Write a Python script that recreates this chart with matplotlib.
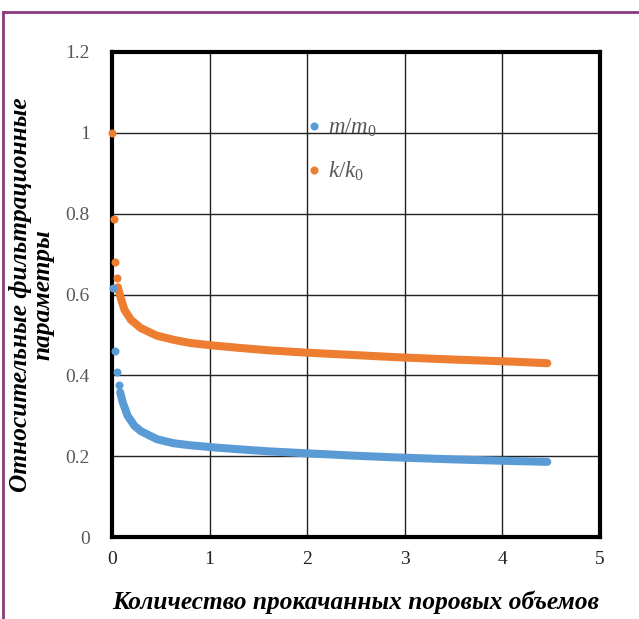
import numpy as np
import matplotlib.pyplot as plt
from matplotlib.lines import Line2D

# m/m0 - first separate points, then the dense part of the curve
m_start_x = [0.007, 0.034, 0.05, 0.067]
m_start_y = [0.616, 0.461, 0.408, 0.377]
m_curve_x = [0.084, 0.11, 0.16, 0.23, 0.295, 0.46, 0.63, 0.80, 1.03, 1.3, 1.6, 2.0, 2.5, 2.9, 3.5, 4.1, 4.46]
m_curve_y = [0.358, 0.333, 0.300, 0.275, 0.262, 0.242, 0.232, 0.227, 0.222, 0.217, 0.212, 0.207, 0.201, 0.197, 0.192, 0.188, 0.186]

# k/k0
k_start_x = [0.0, 0.017, 0.034, 0.05]
k_start_y = [1.0, 0.787, 0.681, 0.642]
k_curve_x = [0.06, 0.094, 0.128, 0.195, 0.295, 0.46, 0.63, 0.80, 1.03, 1.3, 1.6, 2.0, 2.5, 2.9, 3.5, 4.1, 4.46]
k_curve_y = [0.618, 0.588, 0.562, 0.537, 0.517, 0.498, 0.488, 0.480, 0.474, 0.468, 0.462, 0.456, 0.450, 0.445, 0.439, 0.434, 0.430]

x_ticks = [0, 1, 2, 3, 4, 5]
y_ticks = [0, 0.2, 0.4, 0.6, 0.8, 1.0, 1.2]
y_tick_labels = ['0', '0.2', '0.4', '0.6', '0.8', '1', '1.2']

blue = '#5B9BD5'
orange = '#ED7D31'
gray = '#595959'

plt.rcParams['font.family'] = 'Liberation Serif'
plt.rcParams['mathtext.fontset'] = 'custom'
plt.rcParams['mathtext.it'] = 'Liberation Serif:italic'
plt.rcParams['mathtext.rm'] = 'Liberation Serif'

fig = plt.figure(figsize=(6.39, 6.19), dpi=100)
ax = fig.add_axes([112/639, 1 - 537/619, 488/639, 485/619])

ms = 5.8
ax.plot(m_curve_x, m_curve_y, '-', color=blue, lw=ms, solid_capstyle='round', solid_joinstyle='round', zorder=3)
ax.plot(k_curve_x, k_curve_y, '-', color=orange, lw=ms, solid_capstyle='round', solid_joinstyle='round', zorder=3)
ax.plot(m_start_x, m_start_y, 'o', color=blue, ms=ms, mew=0, clip_on=False, zorder=4, label='$m/m_0$')
ax.plot(k_start_x, k_start_y, 'o', color=orange, ms=ms, mew=0, clip_on=False, zorder=4, label='$k/k_0$')

ax.set_xlim(0, 5)
ax.set_ylim(0, 1.2)
ax.set_xticks(x_ticks)
ax.set_yticks(y_ticks)
ax.set_yticklabels(y_tick_labels)
ax.tick_params(length=0, labelsize=14, labelcolor=gray)
ax.tick_params(axis='x', pad=10, labelcolor='#222222')
ax.tick_params(axis='y', pad=16)

ax.grid(True, color='#222222', lw=1.0)
ax.set_axisbelow(True)
for s in ax.spines.values():
    s.set_linewidth(3)
    s.set_color('black')

ax.set_xlabel('Количество прокачанных поровых объемов', fontsize=18.3,
              fontweight='bold', style='italic', labelpad=16)
ax.set_ylabel('Относительные фильтрационные\nпараметры', fontsize=18.3,
              fontweight='bold', style='italic', labelpad=8, linespacing=0.95)

ax.legend(loc='center left', bbox_to_anchor=(0.395, 0.798), frameon=False,
          fontsize=16.5, handlelength=0.8, handletextpad=0.2, labelspacing=0.9,
          borderpad=0, borderaxespad=0, labelcolor=gray, markerscale=1.0)

# purple page border
fig.add_artist(Line2D([3/639, 3/639], [0, 1 - 12/619], color='#8B3A7E', lw=2, transform=fig.transFigure))
fig.add_artist(Line2D([3/639, 1], [1 - 12/619, 1 - 12/619], color='#8B3A7E', lw=2, transform=fig.transFigure))

fig.savefig('out.png', dpi=100)
